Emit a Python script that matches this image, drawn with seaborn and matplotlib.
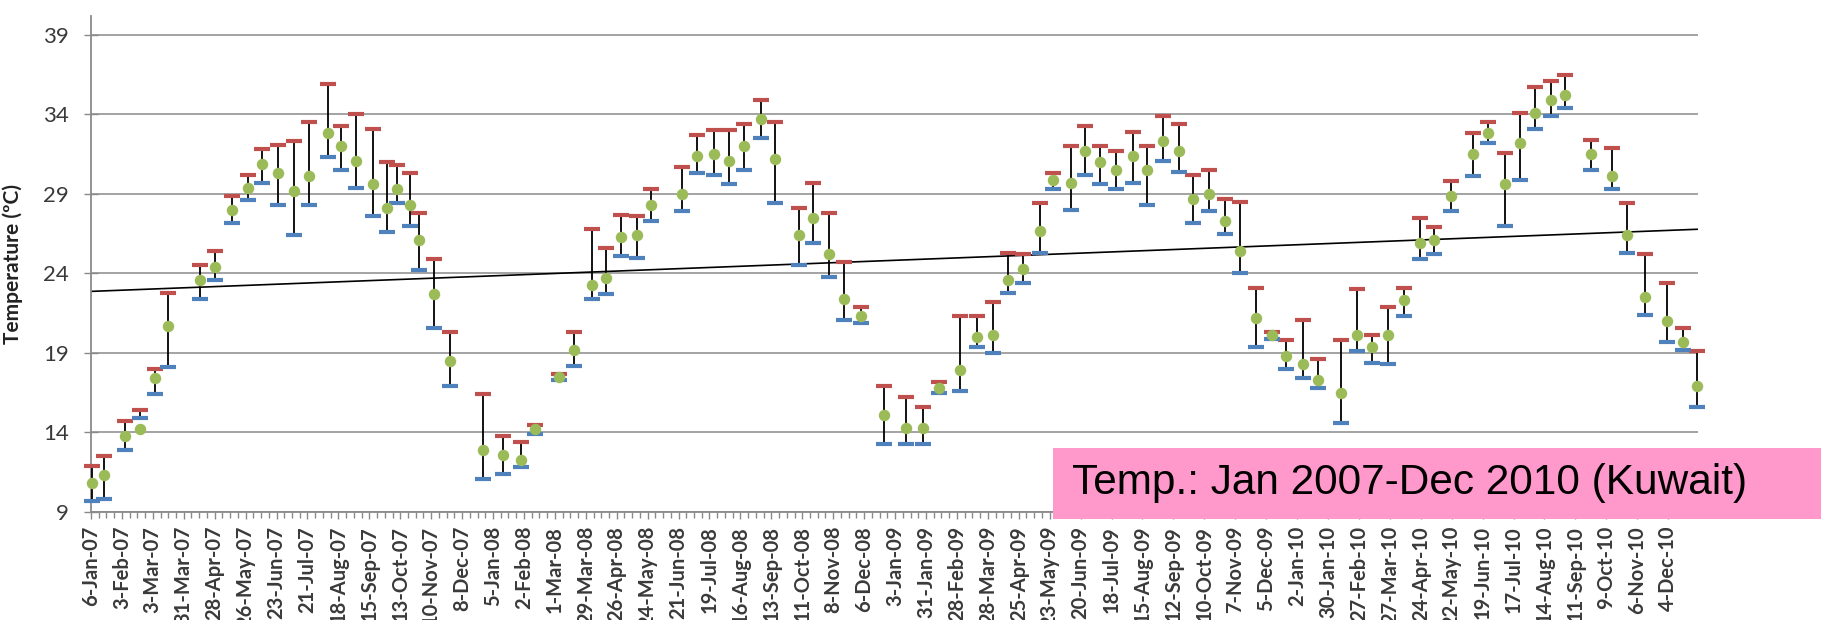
import matplotlib
matplotlib.use('Agg')
import numpy as np
import pandas as pd
import seaborn as sns
import matplotlib.pyplot as plt
import matplotlib.dates as mdates
from matplotlib.ticker import MultipleLocator
from matplotlib.patches import Rectangle

# sample dates
dates = ['2007-01-07', '2007-01-18', '2007-02-06', '2007-02-19', '2007-03-05', '2007-03-17',
         '2007-04-15', '2007-04-28', '2007-05-14', '2007-05-28', '2007-06-10', '2007-06-24',
         '2007-07-09', '2007-07-22', '2007-08-09', '2007-08-20', '2007-09-03', '2007-09-18',
         '2007-10-01', '2007-10-10', '2007-10-22', '2007-10-30', '2007-11-13', '2007-11-27',
         '2007-12-27', '2008-01-14', '2008-01-30', '2008-02-12', '2008-03-05', '2008-03-18',
         '2008-04-04', '2008-04-16', '2008-04-30', '2008-05-14', '2008-05-27', '2008-06-24',
         '2008-07-08', '2008-07-23', '2008-08-06', '2008-08-19', '2008-09-04', '2008-09-16',
         '2008-10-08', '2008-10-21', '2008-11-04', '2008-11-18', '2008-12-03', '2008-12-24',
         '2009-01-13', '2009-01-28', '2009-02-12', '2009-03-03', '2009-03-18', '2009-04-02',
         '2009-04-15', '2009-04-29', '2009-05-14', '2009-05-26', '2009-06-11', '2009-06-24',
         '2009-07-08', '2009-07-22', '2009-08-06', '2009-08-19', '2009-09-03', '2009-09-17',
         '2009-09-30', '2009-10-14', '2009-10-29', '2009-11-11', '2009-11-26', '2009-12-10',
         '2009-12-23', '2010-01-07', '2010-01-21', '2010-02-11', '2010-02-25', '2010-03-11',
         '2010-03-25', '2010-04-09', '2010-04-23', '2010-05-06', '2010-05-21', '2010-06-10',
         '2010-06-24', '2010-07-09', '2010-07-23', '2010-08-05', '2010-08-20', '2010-09-02',
         '2010-09-25', '2010-10-14', '2010-10-28', '2010-11-13', '2010-12-03', '2010-12-17',
         '2010-12-30']

t_mean = [10.8, 11.3, 13.8, 14.2, 17.4, 20.7, 23.6, 24.4, 28.0, 29.4, 30.9, 30.3,
          29.2, 30.1, 32.8, 32.0, 31.1, 29.6, 28.1, 29.3, 28.3, 26.1, 22.7, 18.5,
          12.9, 12.6, 12.3, 14.2, 17.5, 19.2, 23.3, 23.7, 26.3, 26.4, 28.3, 29.0,
          31.4, 31.5, 31.1, 32.0, 33.7, 31.2, 26.4, 27.5, 25.2, 22.4, 21.3, 15.1,
          14.3, 14.3, 16.8, 17.9, 20.0, 20.1, 23.6, 24.3, 26.7, 29.9, 29.7, 31.7,
          31.0, 30.5, 31.4, 30.5, 32.3, 31.7, 28.7, 29.0, 27.3, 25.4, 21.2, 20.1,
          18.8, 18.3, 17.3, 16.5, 20.1, 19.4, 20.1, 22.3, 25.9, 26.1, 28.9, 31.5,
          32.8, 29.6, 32.2, 34.1, 34.9, 35.2, 31.5, 30.1, 26.4, 22.5, 21.0, 19.7,
          16.9]

t_max = [11.9, 12.5, 14.7, 15.4, 18.0, 22.8, 24.5, 25.4, 28.9, 30.2, 31.8, 32.1,
         32.3, 33.5, 35.9, 33.3, 34.0, 33.1, 31.0, 30.8, 30.3, 27.8, 24.9, 20.3,
         16.4, 13.8, 13.4, 14.5, 17.7, 20.3, 26.8, 25.6, 27.7, 27.6, 29.3, 30.7,
         32.7, 33.0, 33.0, 33.4, 34.9, 33.5, 28.1, 29.7, 27.8, 24.7, 21.9, 16.9,
         16.2, 15.6, 17.2, 21.3, 21.3, 22.2, 25.3, 25.2, 28.4, 30.3, 32.0, 33.3,
         32.0, 31.7, 32.9, 32.0, 33.9, 33.4, 30.2, 30.5, 28.7, 28.5, 23.1, 20.3,
         19.8, 21.1, 18.6, 19.8, 23.0, 20.1, 21.9, 23.1, 27.5, 26.9, 29.8, 32.8,
         33.5, 31.6, 34.1, 35.7, 36.1, 36.5, 32.4, 31.9, 28.4, 25.2, 23.4, 20.6,
         19.1]

t_min = [9.7, 9.8, 12.9, 14.9, 16.4, 18.1, 22.4, 23.6, 27.2, 28.6, 29.7, 28.3,
         26.4, 28.3, 31.3, 30.5, 29.4, 27.6, 26.6, 28.4, 27.0, 24.2, 20.6, 16.9,
         11.1, 11.4, 11.8, 13.9, 17.3, 18.2, 22.4, 22.7, 25.1, 25.0, 27.3, 27.9,
         30.3, 30.2, 29.6, 30.5, 32.5, 28.4, 24.5, 25.9, 23.8, 21.1, 20.9, 13.3,
         13.3, 13.3, 16.5, 16.6, 19.4, 19.0, 22.8, 23.4, 25.3, 29.3, 28.0, 30.2,
         29.6, 29.3, 29.7, 28.3, 31.1, 30.4, 27.2, 27.9, 26.5, 24.0, 19.4, 19.9,
         18.0, 17.4, 16.8, 14.6, 19.1, 18.4, 18.3, 21.3, 24.9, 25.2, 27.9, 30.1,
         32.2, 27.0, 29.9, 33.1, 33.9, 34.4, 30.5, 29.3, 25.3, 21.4, 19.7, 19.2,
         15.6]

tick_labels = ['6-Jan-07', '3-Feb-07', '3-Mar-07', '31-Mar-07', '28-Apr-07', '26-May-07',
               '23-Jun-07', '21-Jul-07', '18-Aug-07', '15-Sep-07', '13-Oct-07', '10-Nov-07',
               '8-Dec-07', '5-Jan-08', '2-Feb-08', '1-Mar-08', '29-Mar-08', '26-Apr-08',
               '24-May-08', '21-Jun-08', '19-Jul-08', '16-Aug-08', '13-Sep-08', '11-Oct-08',
               '8-Nov-08', '6-Dec-08', '3-Jan-09', '31-Jan-09', '28-Feb-09', '28-Mar-09',
               '25-Apr-09', '23-May-09', '20-Jun-09', '18-Jul-09', '15-Aug-09', '12-Sep-09',
               '10-Oct-09', '7-Nov-09', '5-Dec-09', '2-Jan-10', '30-Jan-10', '27-Feb-10',
               '27-Mar-10', '24-Apr-10', '22-May-10', '19-Jun-10', '17-Jul-10', '14-Aug-10',
               '11-Sep-10', '9-Oct-10', '6-Nov-10', '4-Dec-10']
y_ticks = [9, 14, 19, 24, 29, 34, 39]

df = pd.DataFrame({'date': pd.to_datetime(dates), 'mean': t_mean, 'max': t_max, 'min': t_min})
df['x'] = mdates.date2num(df['date'])
tick_x = mdates.date2num(pd.to_datetime(tick_labels, format='%d-%b-%y'))

sns.set_style('white')
plt.rcParams['font.family'] = ['Lato', 'DejaVu Sans']

fig = plt.figure(figsize=(18.27, 6.2), dpi=100)
ax = fig.add_axes([0.0498, 0.1742, 0.8796, 0.8003])

x0 = tick_x[0]
x1 = mdates.date2num(pd.Timestamp('2010-12-31'))
ax.set_xlim(x0, x1)
ax.set_ylim(9, 40.2)

ax.set_yticks(y_ticks)
ax.yaxis.grid(True, color='#8a8a8a', lw=1.1)
ax.set_axisbelow(True)

# linear trend line over the whole axis
sns.regplot(x=df['x'], y=df['mean'], scatter=False, ci=None, truncate=False, ax=ax,
            line_kws=dict(color='black', lw=1.2, zorder=2))

ax.vlines(df['x'], df['min'], df['max'], color='black', lw=1.3, zorder=3, clip_on=False)
sns.scatterplot(x=df['x'], y=df['max'], marker='_', s=130, color='#C0504D',
                edgecolor='#C0504D', linewidth=3, ax=ax, zorder=4, clip_on=False)
sns.scatterplot(x=df['x'], y=df['min'], marker='_', s=130, color='#4F81BD',
                edgecolor='#4F81BD', linewidth=3, ax=ax, zorder=4, clip_on=False)
sns.scatterplot(x=df['x'], y=df['mean'], marker='o', s=68, color='#9BBB59',
                edgecolor='#9BBB59', linewidth=0, ax=ax, zorder=5, clip_on=False)

ax.set_xticks(tick_x)
ax.set_xticklabels(tick_labels, rotation=90, fontsize=14.5, fontweight='bold',
                   color='#3a3a3a')
ax.xaxis.set_minor_locator(MultipleLocator(7, offset=x0 % 7))
ax.tick_params(axis='x', which='major', direction='out', length=5, width=1,
               color='#8a8a8a', pad=5, bottom=True)
ax.tick_params(axis='x', which='minor', direction='out', length=4, width=1,
               color='#8a8a8a', bottom=True)
ax.tick_params(axis='y', direction='inout', length=10, width=1, color='#8a8a8a',
               labelsize=16, labelcolor='#3a3a3a', pad=11, left=True)

for s in ['top', 'right']:
    ax.spines[s].set_visible(False)
for s in ['left', 'bottom']:
    ax.spines[s].set_color('#8a8a8a')
    ax.spines[s].set_linewidth(1.3)

ax.set_xlabel('')
ax.set_ylabel('Temperature (ºC)', fontsize=15, fontweight='bold', color='#222222')
ax.yaxis.set_label_coords(-0.042, 0.5)

# pink caption box
fig.add_artist(Rectangle((0.5764, 0.1629), 0.4204, 0.1145, transform=fig.transFigure,
                         facecolor='#FF99CC', edgecolor='none', zorder=10))
fig.text(0.5868, 0.2210, 'Temp.: Jan 2007-Dec 2010 (Kuwait)', fontsize=30.5,
         family=['Liberation Sans', 'DejaVu Sans'], color='black', va='center',
         ha='left', zorder=11)

fig.savefig('out.png', dpi=100)
